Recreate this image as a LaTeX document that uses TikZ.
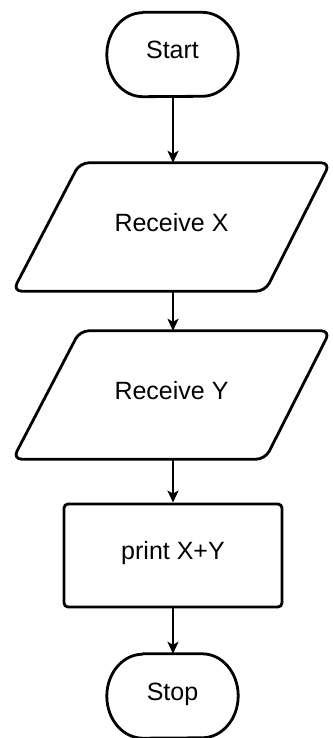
\documentclass[tikz,border=0pt]{standalone}
\usepackage{fontspec}
\setmainfont{Liberation Sans}
\usetikzlibrary{calc,arrows.meta}
\tikzset{
  holder/.style={rectangle, inner sep=0pt, font=\fontsize{25}{28}\selectfont,
    text height=18pt, text depth=9pt},
  outline/.style={draw=black, line width=2.8pt, line join=round},
  arr/.style={draw=black, line width=2.1pt, -{Stealth[length=12pt,width=11pt,inset=3pt]}}
}
\begin{document}
\begin{tikzpicture}[x=1pt,y=1pt]
\useasboundingbox (0,0) rectangle (332,738);
% Start
\node[holder, minimum width=131pt, minimum height=84pt] (start) at (172.5,683.5) {Start};
\draw[outline] ($(start.north west)+(36,0)$) -- ($(start.north east)+(-36,0)$)
  arc[start angle=90, end angle=-90, x radius=36, y radius=42]
  -- ($(start.south west)+(36,0)$)
  arc[start angle=270, end angle=90, x radius=36, y radius=42] -- cycle;
% Receive X
\node[holder, minimum width=317pt, minimum height=128pt] (rx) at (171.5,511) {Receive X};
\draw[outline, rounded corners=9pt] ($(rx.north west)+(67,0)$) -- (rx.north east)
  -- ($(rx.south east)+(-65,0)$) -- (rx.south west) -- cycle;
% Receive Y
\node[holder, minimum width=317pt, minimum height=128pt] (ry) at (171.5,343) {Receive Y};
\draw[outline, rounded corners=9pt] ($(ry.north west)+(67,0)$) -- (ry.north east)
  -- ($(ry.south east)+(-65,0)$) -- (ry.south west) -- cycle;
% print
\node[holder, draw=black, line width=2.8pt, rounded corners=4pt, minimum width=218pt, minimum height=103pt] (pr) at (173,182.5) {print X+Y};
% Stop
\node[holder, minimum width=131pt, minimum height=84pt] (stop) at (172.5,42) {Stop};
\draw[outline] ($(stop.north west)+(36,0)$) -- ($(stop.north east)+(-36,0)$)
  arc[start angle=90, end angle=-90, x radius=36, y radius=42]
  -- ($(stop.south west)+(36,0)$)
  arc[start angle=270, end angle=90, x radius=36, y radius=42] -- cycle;
% arrows
\coordinate (ax) at (173,0);
\draw[arr] (ax |- start.south) -- (ax |- rx.north);
\draw[arr] (ax |- rx.south) -- (ax |- ry.north);
\draw[arr] (ax |- ry.south) -- (ax |- pr.north);
\draw[arr] (ax |- pr.south) -- (ax |- stop.north);
\end{tikzpicture}
\end{document}
